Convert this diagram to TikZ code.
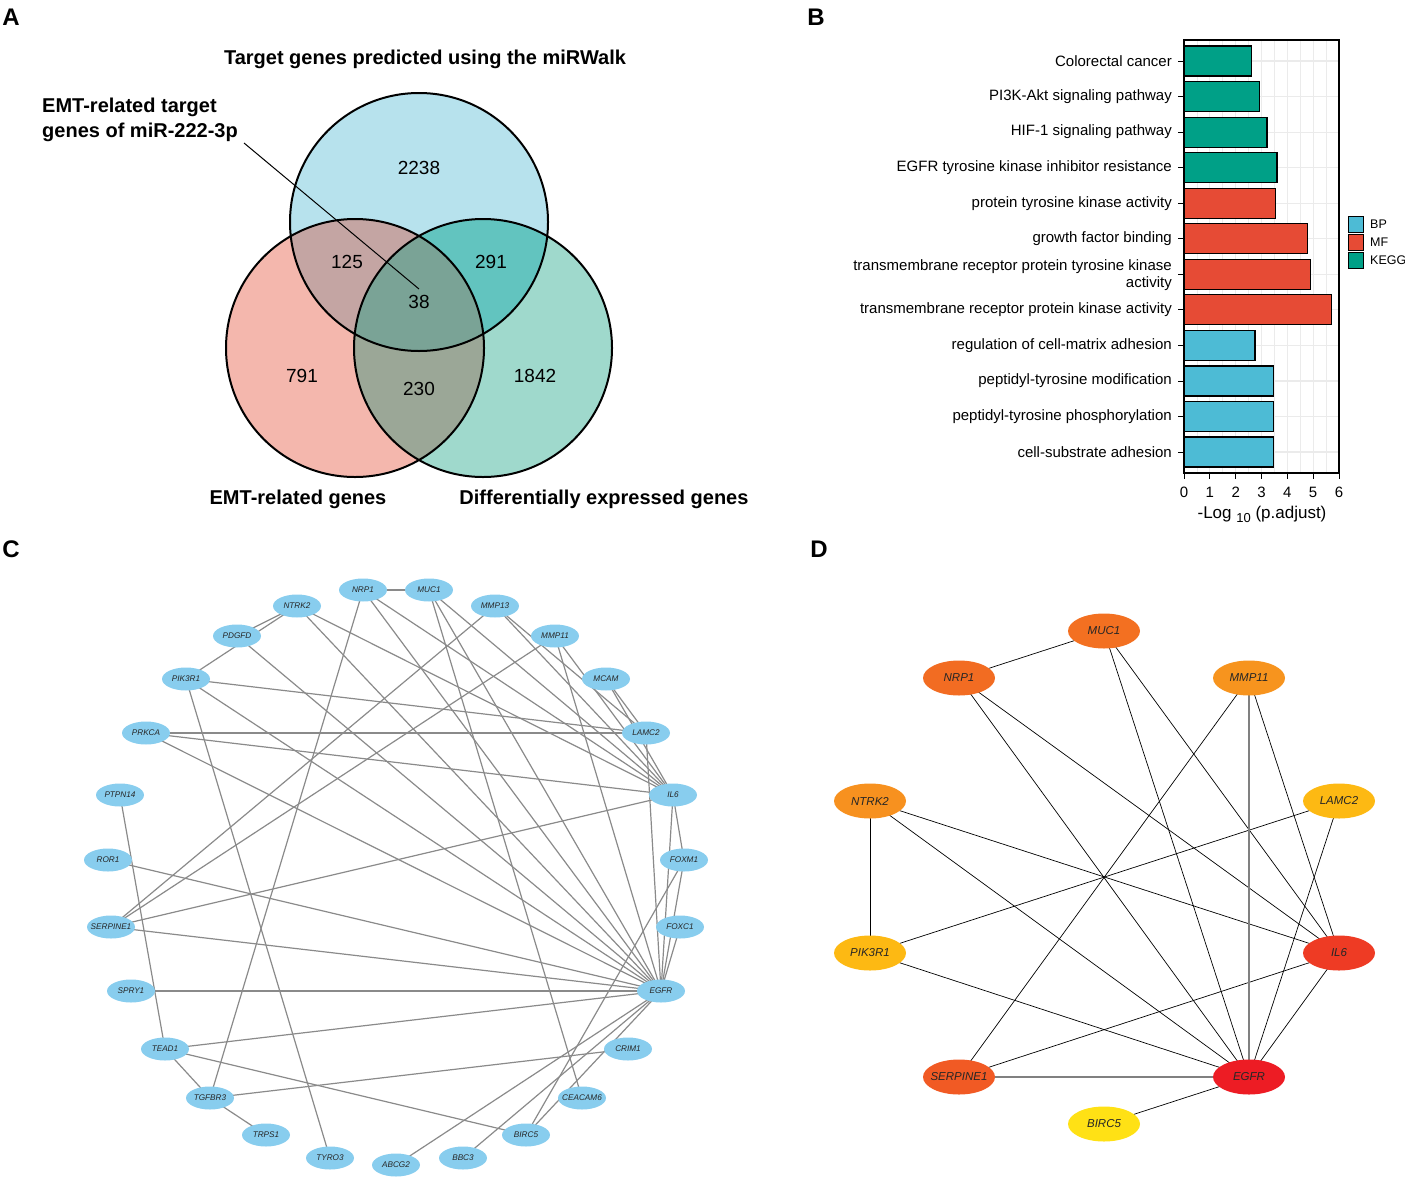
\documentclass[tikz,border=0pt]{standalone}
\usepackage{fontspec}
\setmainfont{Liberation Sans}
\usetikzlibrary{shapes.geometric}
\pgfdeclarelayer{edges}
\pgfsetlayers{edges,main}
\definecolor{topc}{HTML}{B7E2ED}
\definecolor{leftc}{HTML}{F4B7AD}
\definecolor{rightc}{HTML}{9FD9CC}
\definecolor{tlc}{HTML}{C4A5A3}
\definecolor{trc}{HTML}{62C4BF}
\definecolor{lrc}{HTML}{9BA797}
\definecolor{allc}{HTML}{7AA396}
\definecolor{bpc}{HTML}{4DBBD5}
\definecolor{mfc}{HTML}{E64B35}
\definecolor{keggc}{HTML}{00A087}
\definecolor{gridc}{HTML}{EBEBEB}
\definecolor{cblue}{HTML}{88CDEE}
\definecolor{cedge}{HTML}{8A8A8A}
\definecolor{dmuc}{HTML}{F37021}
\definecolor{dnrp}{HTML}{F26C22}
\definecolor{dmmp}{HTML}{F7941E}
\definecolor{dntrk}{HTML}{F7911F}
\definecolor{dlamc}{HTML}{FDB913}
\definecolor{dpik}{HTML}{FDB913}
\definecolor{dil}{HTML}{EE3B24}
\definecolor{dserp}{HTML}{F15A24}
\definecolor{degfr}{HTML}{ED1C24}
\definecolor{dbirc}{HTML}{FFE115}
\newcommand{\zw}[1]{\makebox[0pt]{#1}}
\begin{document}
\begin{tikzpicture}[x=1pt,y=-1pt,
 cn/.style={ellipse, fill=cblue, minimum width=48, minimum height=23, inner sep=0pt, font=\itshape\fontsize{8.2}{9}\selectfont, text=black!85},
 dn/.style={ellipse, minimum width=72, minimum height=35, inner sep=0pt, font=\itshape\fontsize{11.5}{13}\selectfont, text=black!85},
 ce/.style={draw=cedge, line width=1.2},
 de/.style={draw=black, line width=0.7},
 dg/.style={draw=black!50, line width=1.7},
 panel/.style={font=\bfseries\fontsize{24}{28}\selectfont, inner sep=0pt},
 vt/.style={font=\bfseries\fontsize{20}{25}\selectfont, inner sep=0pt},
 num/.style={font=\fontsize{19}{22}\selectfont, inner sep=0pt},
 blab/.style={font=\fontsize{15}{16.5}\selectfont, anchor=east, inner sep=0pt, align=right},
 tlab/.style={font=\fontsize{15}{17}\selectfont, inner sep=0pt},
 leg/.style={font=\fontsize{12.5}{14}\selectfont, anchor=west, inner sep=0pt}]
\useasboundingbox (0,0) rectangle (1405,1178);

% ---------------- Panel labels
\node[panel] (pA) at (11,17) {A};
\node[panel] (pB) at (816,17) {B};
\node[panel] (pC) at (11,549) {C};
\node[panel] (pD) at (819,549) {D};

% ---------------- Panel A : Venn
\coordinate (T) at (419,222);
\coordinate (L) at (355,348);
\coordinate (R) at (483,348);
\fill[topc] (T) circle (129);
\fill[leftc] (L) circle (129);
\fill[rightc] (R) circle (129);
\begin{scope}
 \clip (T) circle (129);
 \fill[tlc] (L) circle (129);
 \fill[trc] (R) circle (129);
\end{scope}
\begin{scope}
 \clip (L) circle (129);
 \fill[lrc] (R) circle (129);
 \clip (R) circle (129);
 \fill[allc] (T) circle (129);
\end{scope}
\draw[line width=2] (T) circle (129);
\draw[line width=2] (L) circle (129);
\draw[line width=2] (R) circle (129);

\node[num] (n2238) at (419,168) {2238};
\node[num] (n125) at (347,262) {125};
\node[num] (n291) at (491,262) {291};
\node[num] (n38) at (419,302) {38};
\node[num] (n791) at (302,376) {791};
\node[num] (n230) at (419,389) {230};
\node[num] (n1842) at (535,376) {1842};

\node[vt] (ttop) at (425,59) {Target genes predicted using the miRWalk};
\node[vt, align=left, anchor=west] (temt) at (42,120) {EMT-related target\\genes of miR-222-3p};
\node[vt] (tleft) at (298,499) {EMT-related genes};
\node[vt] (tright) at (604,499) {Differentially expressed genes};
\coordinate (lstart) at (244,143);
\coordinate (lend) at (419,289);
\draw[line width=1] (lstart) -- (lend);

% ---------------- Panel B : bar chart
\foreach \g in {0.5,1.5,2.5,3.5,4.5,5.5}{
 \draw[gridc, line width=0.6] ({1184+\g*25.83},40) -- ({1184+\g*25.83},473);
}
\foreach \g in {0,1,2,3,4,5,6}{
 \draw[gridc, line width=1.2] ({1184+\g*25.83},40) -- ({1184+\g*25.83},473);
}
\foreach \i in {1,...,12}{
 \draw[gridc, line width=1.2] (1184,{61+(\i-1)*35.55}) -- (1339,{61+(\i-1)*35.55});
}
\foreach \i/\v/\c in {1/2.6/keggc, 2/2.93/keggc, 3/3.21/keggc, 4/3.6/keggc, 5/3.53/mfc, 6/4.77/mfc, 7/4.9/mfc, 8/5.72/mfc, 9/2.75/bpc, 10/3.46/bpc, 11/3.46/bpc, 12/3.46/bpc}{
 \draw[fill=\c, line width=1.2] (1184,{61+(\i-1)*35.55-15}) rectangle ({1184+\v*25.83},{61+(\i-1)*35.55+15});
 \draw[line width=0.9] (1178,{61+(\i-1)*35.55}) -- (1184,{61+(\i-1)*35.55});
}
\draw[line width=1.3] (1184,40) rectangle (1339,473);
\foreach \g in {0,1,2,3,4,5,6}{
 \draw[line width=0.9] ({1184+\g*25.83},473) -- ({1184+\g*25.83},479);
 \node[tlab] (tk\g) at ({1184+\g*25.83},492) {\g};
}
\node[font=\fontsize{17}{19}\selectfont, inner sep=0pt] (xtitle) at (1262,514) {-Log {\raisebox{-4pt}{\fontsize{13}{14}\selectfont 10}} (p.adjust)};

\node[blab] (b1) at (1172,61) {Colorectal cancer};
\node[blab] (b2) at (1172,96.55) {PI3K-Akt signaling pathway};
\node[blab] (b3) at (1172,132.1) {HIF-1 signaling pathway};
\node[blab] (b4) at (1172,167.65) {EGFR tyrosine kinase inhibitor resistance};
\node[blab] (b5) at (1172,203.2) {protein tyrosine kinase activity};
\node[blab] (b6) at (1172,238.75) {growth factor binding};
\node[blab] (b7) at (1172,275) {transmembrane receptor protein tyrosine kinase\\activity};
\node[blab] (b8) at (1172,309.85) {transmembrane receptor protein kinase activity};
\node[blab] (b9) at (1172,345.4) {regulation of cell-matrix adhesion};
\node[blab] (b10) at (1172,380.95) {peptidyl-tyrosine modification};
\node[blab] (b11) at (1172,416.5) {peptidyl-tyrosine phosphorylation};
\node[blab] (b12) at (1172,452.05) {cell-substrate adhesion};

\draw[fill=bpc, line width=0.9] (1348,216) rectangle (1363,232);
\draw[fill=mfc, line width=0.9] (1348,234) rectangle (1363,250);
\draw[fill=keggc, line width=0.9] (1348,252) rectangle (1363,268);
\node[leg] (lbp) at (1370,224) {BP};
\node[leg] (lmf) at (1370,242) {MF};
\node[leg] (lkegg) at (1370,260) {KEGG};

% ---------------- Panel C : network
\node[cn] (nrp1) at (363,590) {\zw{NRP1}};
\node[cn] (muc1) at (429,590) {\zw{MUC1}};
\node[cn] (ntrk2) at (297,606) {\zw{NTRK2}};
\node[cn] (mmp13) at (495,606) {\zw{MMP13}};
\node[cn] (pdgfd) at (237,636) {\zw{PDGFD}};
\node[cn] (mmp11) at (555,636) {\zw{MMP11}};
\node[cn] (pik3r1) at (186,679) {\zw{PIK3R1}};
\node[cn] (mcam) at (606,679) {\zw{MCAM}};
\node[cn] (prkca) at (146,733) {\zw{PRKCA}};
\node[cn] (lamc2) at (646,733) {\zw{LAMC2}};
\node[cn] (ptpn14) at (120,795) {\zw{PTPN14}};
\node[cn] (il6) at (673,795) {\zw{IL6}};
\node[cn] (ror1) at (108,860) {\zw{ROR1}};
\node[cn] (foxm1) at (684,860) {\zw{FOXM1}};
\node[cn] (serpine1) at (111,927) {\zw{SERPINE1}};
\node[cn] (foxc1) at (680,927) {\zw{FOXC1}};
\node[cn] (spry1) at (131,991) {\zw{SPRY1}};
\node[cn] (egfr) at (661,991) {\zw{EGFR}};
\node[cn] (tead1) at (165,1049) {\zw{TEAD1}};
\node[cn] (crim1) at (628,1049) {\zw{CRIM1}};
\node[cn] (tgfbr3) at (210,1098) {\zw{TGFBR3}};
\node[cn] (ceacam6) at (582,1098) {\zw{CEACAM6}};
\node[cn] (trps1) at (266,1135) {\zw{TRPS1}};
\node[cn] (birc5) at (526,1135) {\zw{BIRC5}};
\node[cn] (tyro3) at (330,1158) {\zw{TYRO3}};
\node[cn] (abcg2) at (396,1165) {\zw{ABCG2}};
\node[cn] (bbc3) at (463,1158) {\zw{BBC3}};

\begin{pgfonlayer}{edges}
\foreach \a/\b in {nrp1/muc1, ntrk2/pdgfd, ntrk2/pik3r1, ntrk2/il6, ntrk2/egfr,
 nrp1/tgfbr3, nrp1/egfr, nrp1/il6, muc1/ceacam6, muc1/egfr, muc1/il6,
 mmp13/serpine1, mmp13/lamc2, mmp13/il6, mmp11/serpine1, mmp11/egfr, mmp11/il6,
 mcam/lamc2, mcam/il6, pdgfd/egfr, pik3r1/lamc2, pik3r1/egfr, pik3r1/tyro3,
 prkca/lamc2, prkca/il6, prkca/egfr, lamc2/egfr, il6/egfr, il6/foxm1, il6/serpine1,
 ptpn14/tead1, ror1/egfr, serpine1/egfr, spry1/egfr, tead1/tgfbr3, tead1/egfr,
 tead1/birc5, tgfbr3/trps1, tgfbr3/crim1, foxm1/egfr, foxm1/birc5, foxc1/egfr,
 egfr/abcg2, egfr/bbc3, egfr/birc5}{
 \draw[ce] (\a.center) -- (\b.center);
}
\end{pgfonlayer}

% ---------------- Panel D : hub network
\node[dn, fill=dmuc] (dmuc1) at (1104,631) {\zw{MUC1}};
\node[dn, fill=dnrp] (dnrp1) at (959,678) {\zw{NRP1}};
\node[dn, fill=dmmp] (dmmp11) at (1249,678) {\zw{MMP11}};
\node[dn, fill=dntrk] (dntrk2) at (870,801) {\zw{NTRK2}};
\node[dn, fill=dlamc] (dlamc2) at (1339,801) {\zw{LAMC2}};
\node[dn, fill=dpik] (dpik3r1) at (870,953) {\zw{PIK3R1}};
\node[dn, fill=dil] (dil6) at (1339,953) {\zw{IL6}};
\node[dn, fill=dserp] (dserpine1) at (959,1077) {\zw{SERPINE1}};
\node[dn, fill=degfr] (degfr) at (1249,1077) {\zw{EGFR}};
\node[dn, fill=dbirc] (dbirc5) at (1104,1124) {\zw{BIRC5}};

\begin{pgfonlayer}{edges}
\foreach \a/\b in {dmuc1/dnrp1, dmuc1/degfr, dmuc1/dil6, dnrp1/degfr, dnrp1/dil6,
 dmmp11/dserpine1, dmmp11/dil6, dntrk2/dpik3r1, dntrk2/dil6, dntrk2/degfr,
 dlamc2/dpik3r1, dlamc2/degfr, dpik3r1/degfr, dil6/dserpine1, dil6/degfr, dbirc5/degfr}{
 \draw[de] (\a.center) -- (\b.center);
}
\draw[dg] (dmmp11.center) -- (degfr.center);
\draw[dg] (dserpine1.center) -- (degfr.center);
\end{pgfonlayer}

\end{tikzpicture}
\end{document}
